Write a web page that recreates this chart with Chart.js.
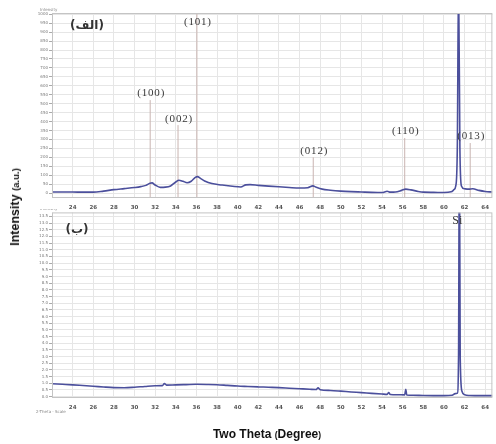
<!DOCTYPE html>
<html>
<head>
<meta charset="utf-8">
<script src="https://cdn.jsdelivr.net/npm/chart.js@4.4.1/dist/chart.umd.min.js"></script>
<style>
body { margin: 0; background: #fff; width: 496px; height: 444px; position: relative; overflow: hidden; font-family: "Liberation Sans", Arial, sans-serif; }
#topBox { position: absolute; left: 0; top: 0; width: 496px; height: 210px; }
#botBox { position: absolute; left: 0; top: 209px; width: 496px; height: 211px; }
.ylab { position: absolute; left: 15px; top: 207px; transform: translate(-50%, -50%) rotate(-90deg); white-space: nowrap; font-weight: bold; font-size: 12.5px; color: #111; }
.ylab .small { font-size: 9.5px; }
.xlab { position: absolute; left: 267px; top: 434px; transform: translate(-50%, -50%); white-space: nowrap; font-weight: bold; font-size: 12px; color: #111; }
.small { font-size: 8.5px; }
</style>
</head>
<body>
<div id="topBox"><canvas id="topChart"></canvas></div>
<div id="botBox"><canvas id="botChart"></canvas></div>
<div class="ylab">Intensity <span class="small">(a.u.)</span></div>
<div class="xlab">Two Theta <span class="small">(</span>Degree<span class="small">)</span></div>
<script>
// x tick labels (2 theta)
var xTicks = [22,24,26,28,30,32,34,36,38,40,42,44,46,48,50,52,54,56,58,60,62,64];
var topYTicks = [0,50,100,150,200,250,300,350,400,450,500,550,600,650,700,750,800,850,900,950,1000];
var botYTicks = [0,0.5,1,1.5,2,2.5,3,3.5,4,4.5,5,5.5,6,6.5,7,7.5,8,8.5,9,9.5,10,10.5,11,11.5,12,12.5,13,13.5];

// panel (الف) pattern
var topTheta = [22,23,24,25,26,27,28,29,30,30.6,31.1,31.5,31.7,32.0,32.5,33.0,33.5,34.0,34.3,34.7,35.1,35.5,35.9,36.1,36.4,36.8,37.5,38.5,39.5,40.3,40.8,41.2,42,43,44,45,46,46.8,47.3,47.6,48.2,49,50,51,52,53,54,54.5,54.8,55.3,55.9,56.3,56.8,57.5,58,59,60,60.7,61.0,61.15,61.3,61.42,61.55,61.7,62.0,62.4,62.8,63.4,64,64.7];
var topCounts = [6,6,6,5,5,11,19,25,31,36,43,55,57,45,32,33,40,62,72,66,58,66,88,92,82,68,53,45,38,34,46,47,43,39,35,31,28,30,40,33,22,16,11,8,6,4,3,10,5,6,15,22,18,9,5,4,3,7,20,40,250,1200,250,40,24,22,24,15,9,6];

// reference sticks
var stickTheta = [31.52, 34.22, 36.05, 47.33, 56.2, 62.55];
var stickHeight = [520, 380, 1007, 200, 308, 280];
var stickLabels = ['(100)', '(002)', '(101)', '(012)', '(110)', '(013)'];

// panel (ب) pattern
var botTheta = [22,23,24,25,26,27,28,29,30,31,32,32.7,32.9,33.1,34,35,36,37,38,39,40,41,42,43,44,45,46,47,47.6,47.8,48.0,49,50,51,52,53,54,54.5,54.65,54.8,55.5,56.2,56.3,56.4,57,58,59,60,60.8,61.1,61.3,61.42,61.5,61.58,61.75,62.0,62.5,63,64,64.7];
var botCounts = [0.96,0.92,0.88,0.83,0.78,0.72,0.67,0.66,0.70,0.76,0.81,0.82,0.98,0.86,0.88,0.90,0.92,0.91,0.89,0.84,0.79,0.76,0.73,0.70,0.67,0.63,0.59,0.55,0.53,0.66,0.52,0.46,0.41,0.35,0.30,0.24,0.19,0.17,0.30,0.16,0.14,0.13,0.55,0.12,0.10,0.08,0.07,0.07,0.10,0.22,0.25,3,20,3,0.4,0.15,0.08,0.07,0.07,0.07];

var lineColor = '#4b4f9c';
var gridColor = '#e6e6e6';

function pts(xs, ys) {
    return xs.map(function(x, i) { return { x: x, y: ys[i] }; });
}

function stickPts(yBase) {
    var out = [];
    for (var i = 0; i < stickTheta.length; i++) {
        out.push({ x: stickTheta[i], y: yBase });
        out.push({ x: stickTheta[i], y: stickHeight[i] });
        out.push({ x: stickTheta[i], y: null });
    }
    return out;
}

// frame, labels drawn on top of the plot
var decor = {
    id: 'decor',
    afterDatasetsDraw: function(chart, args, opts) {
        var ctx = chart.ctx, a = chart.chartArea;
        var xs = chart.scales.x, ys = chart.scales.y;
        ctx.save();
        ctx.strokeStyle = '#c4c4c4';
        ctx.lineWidth = 1;
        ctx.strokeRect(a.left + 0.5, a.top + 0.5, a.right - a.left - 1, a.bottom - a.top);
        // tiny instrument captions
        ctx.fillStyle = '#888';
        ctx.font = '4px "DejaVu Sans"';
        ctx.textAlign = 'left';
        ctx.textBaseline = 'bottom';
        ctx.fillText('Intensity', a.left - 12, a.top - 1);
        if (opts.caption) {
            ctx.textBaseline = 'top';
            ctx.fillText(opts.caption, a.left - 16, a.bottom + 13);
        }
        // panel label
        ctx.fillStyle = '#333';
        ctx.font = 'bold 12px "DejaVu Sans"';
        ctx.textAlign = 'center';
        ctx.textBaseline = 'middle';
        ctx.fillText(opts.panel, opts.panelX, opts.panelY);
        // stick labels
        ctx.font = '11px "Liberation Serif"';
        ctx.letterSpacing = '0.8px';
        ctx.fillStyle = '#3a3a3a';
        ctx.textBaseline = 'bottom';
        if (opts.sticks) {
            for (var i = 0; i < stickTheta.length; i++) {
                var px = xs.getPixelForValue(stickTheta[i]);
                var py = Math.max(ys.getPixelForValue(stickHeight[i]) - 1, a.top + 15);
                ctx.fillText(stickLabels[i], Math.min(px + 1, a.right - 18), py);
            }
        }
        if (opts.si) {
            ctx.font = '12px "Liberation Serif"';
            ctx.letterSpacing = '0px';
            ctx.fillText('Si', xs.getPixelForValue(61.3), a.top + 14);
        }
        ctx.restore();
    }
};

function makeConfig(datasets, ymin, ymax, yTickList, decimals, xHeight, padTop, decorOpts) {
    return {
        type: 'line',
        data: { datasets: datasets },
        options: {
            responsive: true,
            maintainAspectRatio: false,
            animation: false,
            layout: { padding: { left: 0, right: 1, top: padTop, bottom: 0 } },
            plugins: { legend: { display: false }, tooltip: { enabled: false }, decor: decorOpts },
            scales: {
                x: {
                    type: 'linear',
                    min: 22,
                    max: 64.7,
                    afterBuildTicks: function(s) { s.ticks = xTicks.map(function(v) { return { value: v }; }); },
                    afterFit: function(s) { s.height = xHeight; },
                    grid: { color: gridColor, drawTicks: false },
                    border: { display: false },
                    ticks: {
                        padding: 7,
                        maxRotation: 0,
                        autoSkip: false,
                        color: '#555',
                        font: { size: 5.5, weight: 'bold', family: '"DejaVu Sans"' },
                        callback: function(v) { return v === 22 ? '' : v; }
                    }
                },
                y: {
                    min: ymin,
                    max: ymax,
                    afterBuildTicks: function(s) { s.ticks = yTickList.map(function(v) { return { value: v }; }); },
                    afterFit: function(s) { s.width = 52; },
                    grid: { color: gridColor, tickLength: 3, tickColor: '#aaa' },
                    border: { display: false },
                    ticks: {
                        padding: 1,
                        autoSkip: false,
                        color: '#777',
                        font: { size: 4, family: '"DejaVu Sans"' },
                        callback: function(v) { return v.toFixed(decimals); }
                    }
                }
            }
        },
        plugins: [decor]
    };
}

var topChart = new Chart(document.getElementById('topChart'), makeConfig([
    {
        data: pts(topTheta, topCounts),
        borderColor: lineColor,
        borderWidth: 1.6,
        pointRadius: 0,
        cubicInterpolationMode: 'monotone',
        order: 1
    },
    {
        data: stickPts(-22),
        borderColor: '#c9b4b1',
        borderWidth: 1,
        pointRadius: 0,
        spanGaps: false,
        order: 2
    }
], -22, 1007, topYTicks, 0, 13, 13, { panel: '(الف)', panelX: 87, panelY: 26, sticks: true, si: false }));

var botChart = new Chart(document.getElementById('botChart'), makeConfig([
    {
        data: pts(botTheta, botCounts),
        borderColor: lineColor,
        borderWidth: 1.6,
        pointRadius: 0,
        cubicInterpolationMode: 'monotone'
    }
], -0.03, 13.8, botYTicks, 1, 23, 1, { panel: '(ب)', panelX: 77, panelY: 230 - 209, sticks: false, si: true, caption: '2-Theta - Scale' }));
</script>
</body>
</html>
